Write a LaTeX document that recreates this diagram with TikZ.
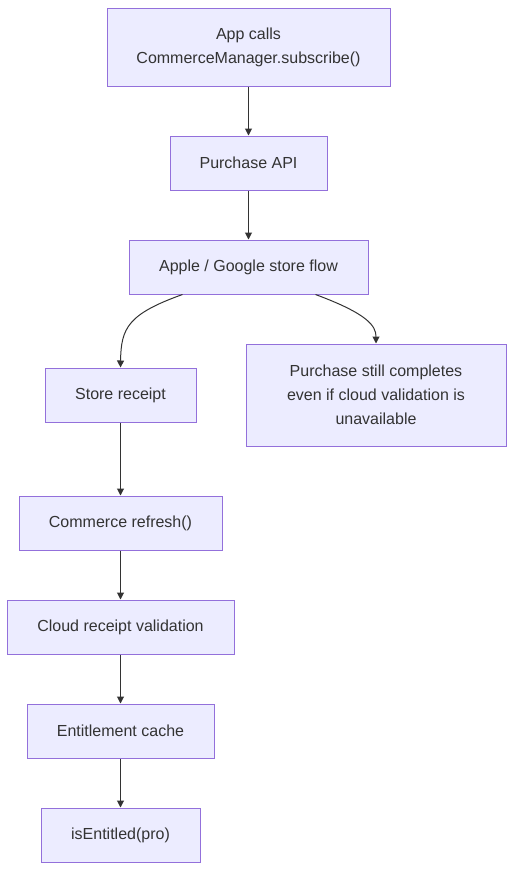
\documentclass[tikz,border=0pt]{standalone}
\usepackage{fontspec}
\setmainfont{Liberation Sans}
\usetikzlibrary{arrows.meta}
\definecolor{boxfill}{HTML}{ECECFF}
\definecolor{boxline}{HTML}{9370DB}
\definecolor{ink}{HTML}{333333}
\begin{document}
\begin{tikzpicture}[x=1pt, y=-1pt,
box/.style={draw=boxline, fill=boxfill, line width=1pt, text=ink, inner sep=0pt,
  align=center, font=\fontsize{16}{24}\selectfont, minimum height=54pt},
flow/.style={draw=ink, line width=1pt, -{Triangle[length=7pt, width=7pt]}}
]
% Canvas
\useasboundingbox (0,0) rectangle (515,870);

% Main column
\node[box, minimum width=283pt, minimum height=78pt] (app) at (248.5,47) {App calls\\CommerceManager.subscribe()};
\node[box, minimum width=157pt] (api) at (248.5,163) {Purchase API};
\node[box, minimum width=239pt] (store) at (248.5,267) {Apple / Google store flow};

% Left branch
\node[box, minimum width=151pt] (receipt) at (120.5,395) {Store receipt};
\node[box, minimum width=203pt] (refresh) at (120.5,523) {Commerce refresh()};
\node[box, minimum width=227pt] (cloud) at (120.5,627) {Cloud receipt validation};
\node[box, minimum width=187pt] (cache) at (120.5,731) {Entitlement cache};
\node[box, minimum width=159pt] (entitled) at (120.5,835) {isEntitled(pro)};

% Right branch
\node[box, minimum width=260pt, minimum height=102pt] (note) at (376,395) {Purchase still completes\\even if cloud validation is\\unavailable};

% Straight connectors
\draw[flow] (app) -- (api);
\draw[flow] (api) -- (store);
\draw[flow] (receipt) -- (refresh);
\draw[flow] (refresh) -- (cloud);
\draw[flow] (cloud) -- (cache);
\draw[flow] (cache) -- (entitled);

% Curved connectors out of the store flow
\draw[flow] ([xshift=54pt]store.south west) .. controls (128,314) and (121,328) .. (receipt.north);
\draw[flow] ([xshift=-53pt]store.south east) .. controls (368,314) and (376,326) .. (note.north);
\end{tikzpicture}
\end{document}
